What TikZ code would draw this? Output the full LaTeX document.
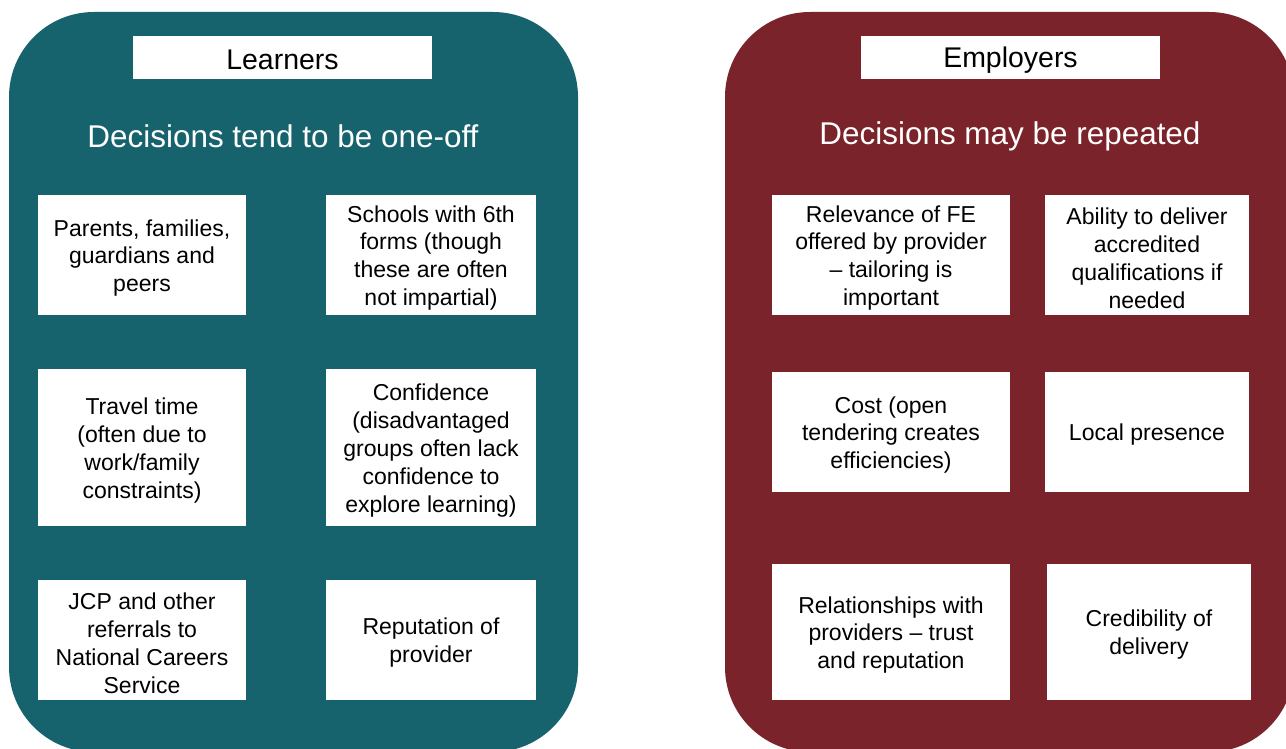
\documentclass[tikz,border=0pt]{standalone}
\usepackage{fontspec}
\setmainfont{Liberation Sans}
\usetikzlibrary{positioning}
\definecolor{LearnTeal}{RGB}{23,99,109}
\definecolor{EmployRed}{RGB}{122,35,42}

\begin{document}
\begin{tikzpicture}[x=0.02cm,y=-0.02cm,
    panel/.style={rounded corners=1.7cm},
    headbox/.style={fill=white,minimum width=5.98cm,minimum height=0.86cm,inner sep=0pt},
    headtext/.style={inner sep=0pt,font=\fontsize{16.2}{19}\selectfont},
    subhead/.style={text=white,inner sep=0pt,font=\fontsize{17.9}{21}\selectfont},
    factor/.style={fill=white,inner sep=0pt},
    factortext/.style={align=center,inner sep=0pt,font=\fontsize{13.1}{15.9}\selectfont}]
        \useasboundingbox (0,0) rectangle (1286,749);
        % the two panels
        \fill[panel,LearnTeal] (9,12) rectangle (578,752);
        \fill[panel,EmployRed] (725,12) rectangle (1294,752);
        % learners
        \node[headbox] (learn) at (282.5,57.5) {};
        \node[headtext] (learntext) at ([yshift=-0.05cm]learn) {Learners};
        \node[subhead] (learnsub) at (283,136) {Decisions tend to be one-off};
        \node[factor,minimum width=4.16cm,minimum height=2.4cm] (parents) at (142,255) {};
        \node[factortext] (parentstext) at ([yshift=-0.06cm]parents) {Parents, families,\\guardians and\\peers};
        \node[factor,minimum width=4.2cm,minimum height=2.4cm] (schools) at (431,255) {};
        \node[factortext] (schoolstext) at ([yshift=-0.06cm]schools) {Schools with 6th\\forms (though\\these are often\\not impartial)};
        \node[factor,minimum width=4.16cm,minimum height=3.14cm] (travel) at (142,447.5) {};
        \node[factortext] (traveltext) at ([yshift=-0.06cm]travel) {Travel time\\(often due to\\work/family\\constraints)};
        \node[factor,minimum width=4.2cm,minimum height=3.14cm] (confid) at (431,447.5) {};
        \node[factortext] (confidtext) at ([yshift=-0.06cm]confid) {Confidence\\(disadvantaged\\groups often lack\\confidence to\\explore learning)};
        \node[factor,minimum width=4.16cm,minimum height=2.4cm] (jcp) at (142,640) {};
        \node[factortext] (jcptext) at ([yshift=-0.06cm]jcp) {JCP and other\\referrals to\\National Careers\\Service};
        \node[factor,minimum width=4.2cm,minimum height=2.4cm] (reput) at (431,640) {};
        \node[factortext] (reputtext) at ([yshift=-0.06cm]reput) {Reputation of\\provider};
        % employers
        \node[headbox] (employ) at (1010.5,57.5) {};
        \node[headtext] (employtext) at ([yshift=-0.05cm]employ) {Employers};
        \node[subhead] (employsub) at (1010,136) {Decisions may be repeated};
        \node[factor,minimum width=4.76cm,minimum height=2.4cm] (relev) at (891,255) {};
        \node[factortext] (relevtext) at ([yshift=-0.06cm]relev) {Relevance of FE\\offered by provider\\– tailoring is\\important};
        \node[factor,minimum width=4.08cm,minimum height=2.4cm] (ability) at (1147,255) {};
        \node[factortext] (abilitytext) at ([yshift=-0.06cm]ability) {Ability to deliver\\accredited\\qualifications if\\needed};
        \node[factor,minimum width=4.76cm,minimum height=2.4cm] (cost) at (891,432) {};
        \node[factortext] (costtext) at ([yshift=-0.06cm]cost) {Cost (open\\tendering creates\\efficiencies)};
        \node[factor,minimum width=4.08cm,minimum height=2.4cm] (local) at (1147,432) {};
        \node[factortext] (localtext) at ([yshift=-0.06cm]local) {Local presence};
        \node[factor,minimum width=4.76cm,minimum height=2.72cm] (relat) at (891,632) {};
        \node[factortext] (relattext) at ([yshift=-0.06cm]relat) {Relationships with\\providers – trust\\and reputation};
        \node[factor,minimum width=4.08cm,minimum height=2.72cm] (cred) at (1149,632) {};
        \node[factortext] (credtext) at ([yshift=-0.06cm]cred) {Credibility of\\delivery};
      \end{tikzpicture}
\end{document}
